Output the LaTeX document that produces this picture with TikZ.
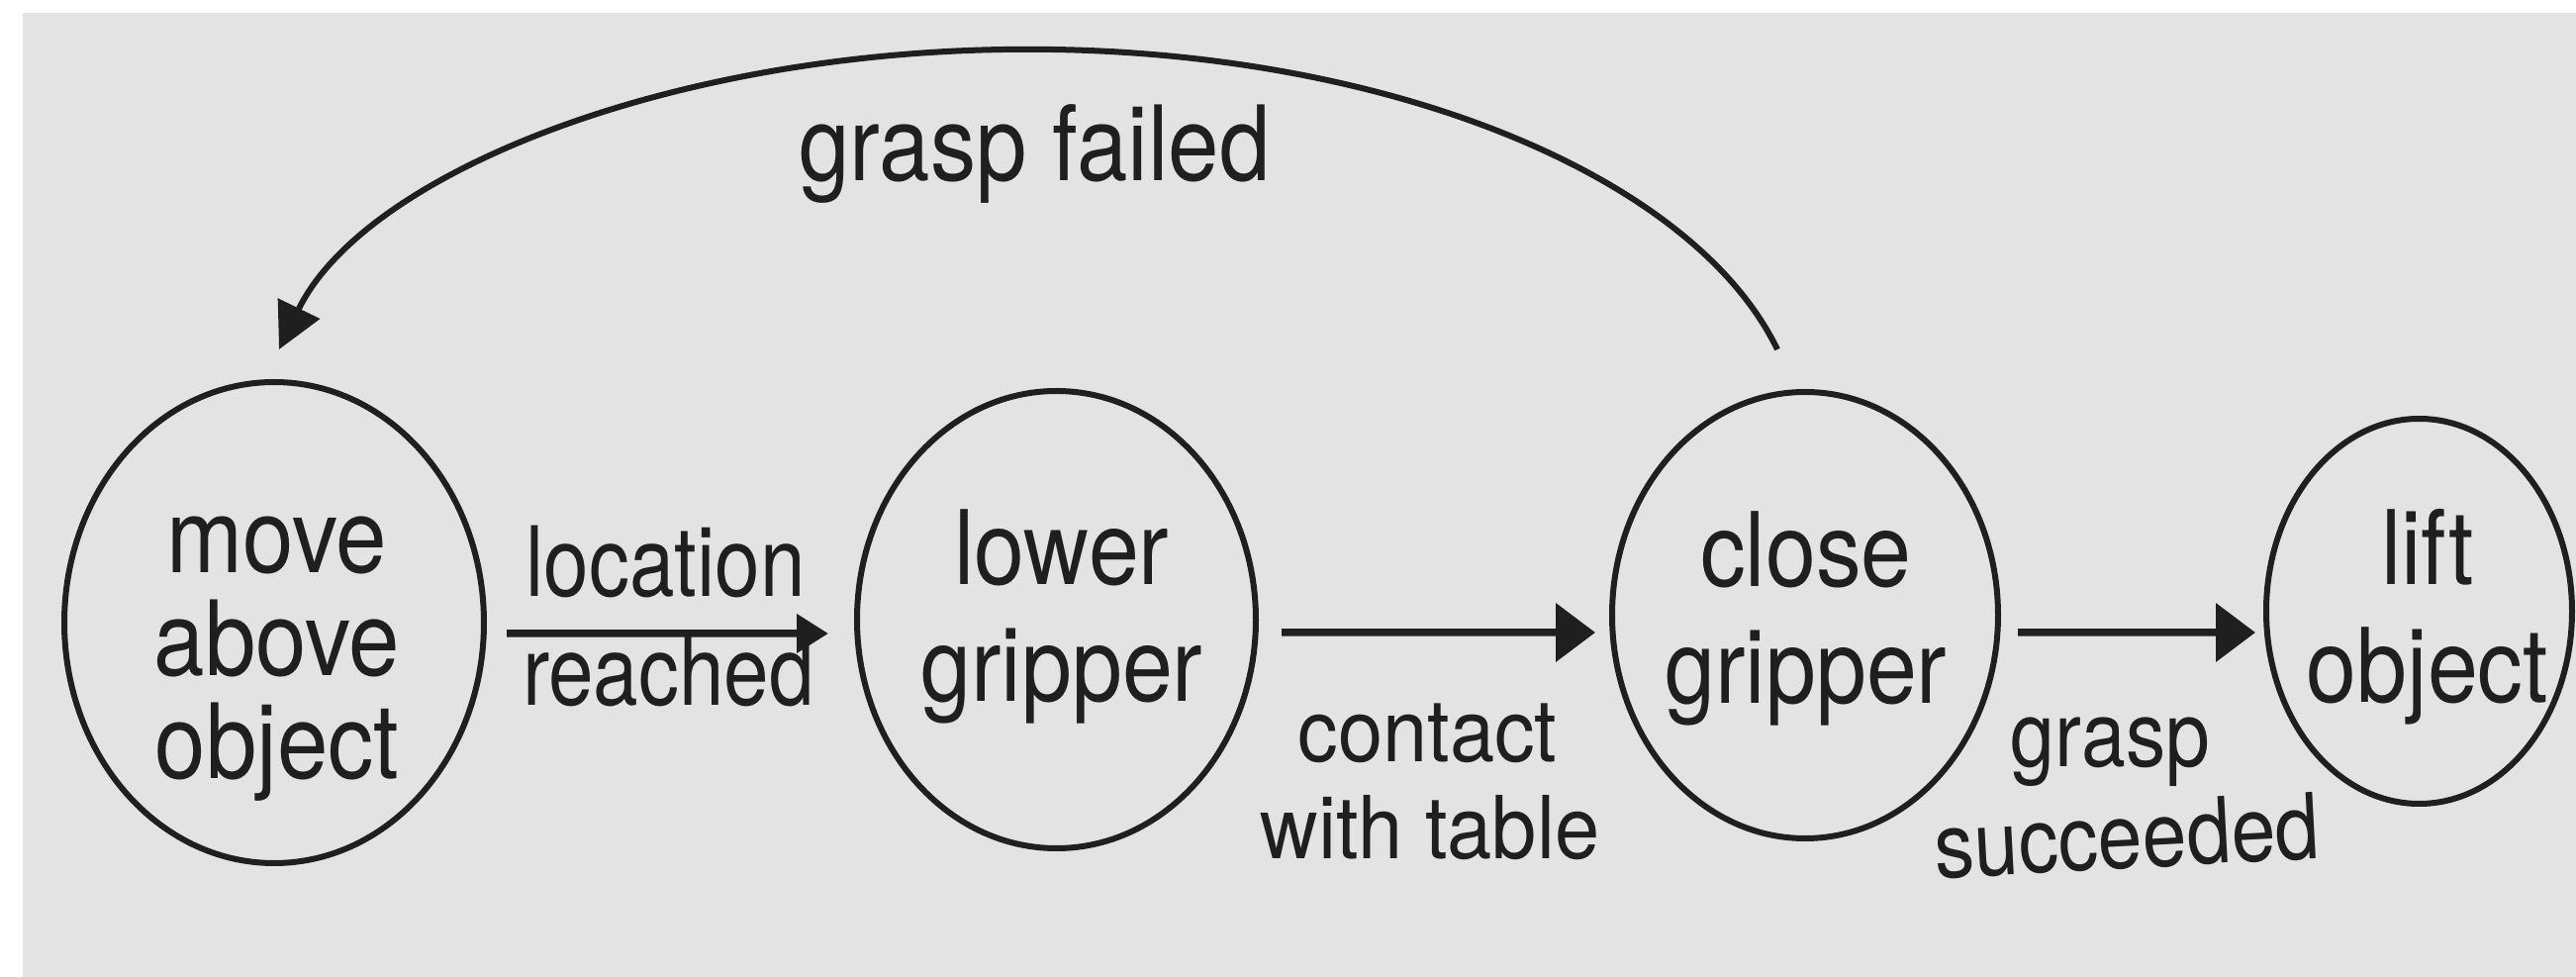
\documentclass[tikz,border=0pt]{standalone}
\usepackage{fontspec}
\setmainfont{TeX Gyre Heros}
\newfontfamily\fnode{TeX Gyre Heros}[FakeStretch=0.88]
\newfontfamily\floc{TeX Gyre Heros}[FakeStretch=0.835]
\newfontfamily\fcon{TeX Gyre Heros}[FakeStretch=0.925]
\newfontfamily\fgs{TeX Gyre Heros}[FakeStretch=0.875]
\usetikzlibrary{arrows.meta,shapes.geometric}
\definecolor{bg}{HTML}{E3E3E3}
\definecolor{ink}{HTML}{1F1F1F}
\tikzset{
  state/.style={ellipse, draw=ink, line width=0.6mm, inner sep=0pt, outer sep=0pt},
  arr/.style={draw=ink, line width=0.75mm, -{Triangle[length=4mm,width=5.8mm]}},
  arrsmall/.style={draw=ink, line width=0.75mm, -{Triangle[length=3.2mm,width=3.8mm]}},
  curvearr/.style={draw=ink, line width=0.6mm, -{Triangle[length=4.6mm,width=4.6mm]}},
  txt/.style={text=ink, inner sep=0pt, outer sep=0pt, align=center},
  lbl/.style={text=ink, inner sep=0pt, outer sep=0pt, anchor=base},
}
\begin{document}
\begin{tikzpicture}[x=0.1mm,y=-0.1mm]
\fill[white] (0,0) rectangle (2603,987);
\fill[bg] (23,13) rectangle (2603,987);
\useasboundingbox (0,0) rectangle (2603,987);

% states
\node[state, minimum width=42.4mm, minimum height=48.6mm] (e1) at (277,629) {};
\node[state, minimum width=40.3mm, minimum height=46.2mm] (e2) at (1067.5,626) {};
\node[state, minimum width=39.0mm, minimum height=45.1mm] (e3) at (1824,621.5) {};
\node[state, minimum width=30.9mm, minimum height=38.9mm] (e4) at (2444.5,617.5) {};

% state texts
\node[txt, font=\fnode\fontsize{29.9pt}{29.6pt}\selectfont] (t1) at (280,666) {move\\above\\object};
\node[txt, font=\fnode\fontsize{29.6pt}{33.6pt}\selectfont] (t2) at (1073,623) {lower\\gripper};
\node[txt, font=\fnode\fontsize{29.6pt}{33.6pt}\selectfont] (t3) at (1825,625) {close\\gripper};
\node[txt, font=\fnode\fontsize{29.6pt}{33.9pt}\selectfont] (t4) at (2453,623) {lift\\object};

% connectors
\draw[arrsmall, shorten <=2.3mm, shorten >=2.9mm] ([yshift=-1.1mm]e1.east) -- ([yshift=-1.4mm]e2.west);
\draw[arr, shorten <=2.6mm, shorten >=1.7mm] ([yshift=-1.3mm]e2.east) -- ([yshift=-1.75mm]e3.west);
\draw[arr, shorten <=2.0mm, shorten >=1.1mm] ([yshift=-1.75mm]e3.east) -- ([yshift=-2.15mm]e4.west);

\coordinate (gfs) at ([xshift=-2.8mm, yshift=4.3mm]e3.north);
\coordinate (gfe) at ([xshift=0.5mm, yshift=3.3mm]e1.north);
\coordinate (gftop) at (1039,49.8);
\draw[curvearr] (gfs) .. controls +(-86.6,-178.2) and +(358.1,0) .. (gftop)
                      .. controls +(-358.1,0) and +(86.6,-178.2) .. (gfe);

% labels
\node[lbl, font=\fnode\fontsize{29.9pt}{30pt}\selectfont] (lgf) at (1045.5,183) {grasp failed};
\node[lbl, font=\floc\fontsize{27.9pt}{30pt}\selectfont] (l1a) at (672.5,603) {location};
\node[lbl, font=\floc\fontsize{27.9pt}{30pt}\selectfont] (l1b) at (675.5,713) {reached};
\node[lbl, font=\fcon\fontsize{25pt}{28pt}\selectfont] (l2a) at (1442.5,770) {contact};
\node[lbl, font=\fcon\fontsize{25pt}{28pt}\selectfont] (l2b) at (1445,868) {with table};
\node[lbl, font=\fgs\fontsize{26.2pt}{28pt}\selectfont] (l3a) at (2132.5,775) {grasp};
\node[lbl, font=\fgs\fontsize{26.2pt}{28pt}\selectfont, rotate=3] (l3b) at (2151,877) {succeeded};
\end{tikzpicture}
\end{document}
